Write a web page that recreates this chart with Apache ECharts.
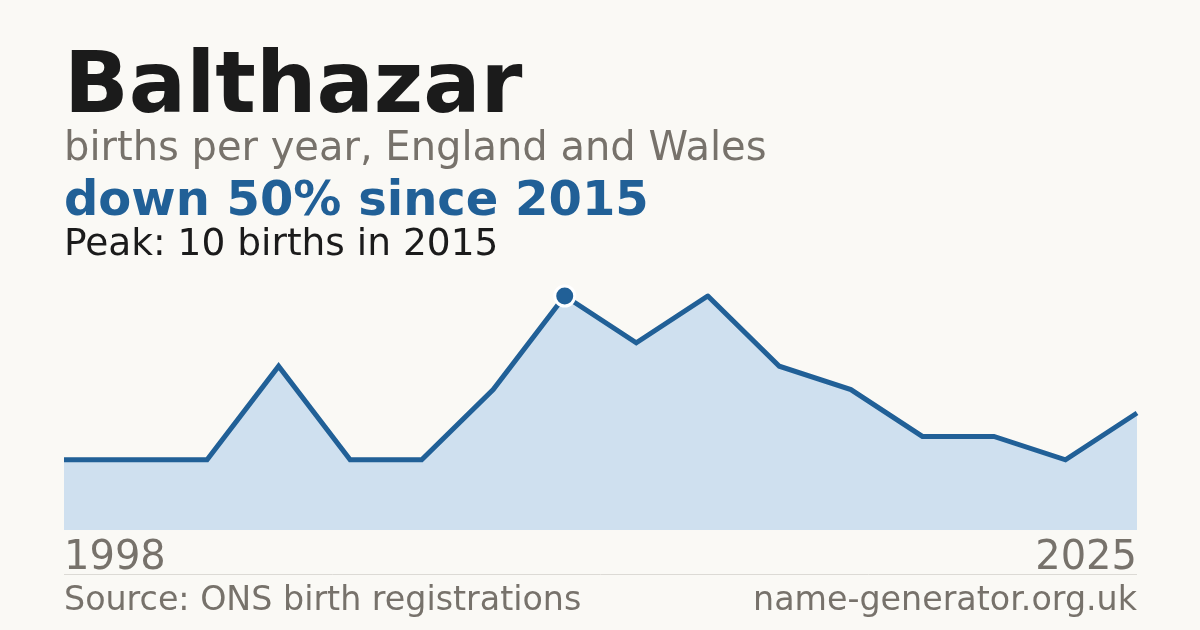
<!DOCTYPE html>
<html><head><meta charset="utf-8">
<script src="https://cdn.jsdelivr.net/npm/echarts@6/dist/echarts.min.js"></script>
<style>html,body{margin:0;padding:0;background:#faf9f5;}#c{width:1200px;height:630px;}</style>
</head><body><div id="c"></div>
<script>
const years = ['1998','2003','2006','2008','2010','2012','2014','2015','2016','2017','2018','2019','2021','2022','2024','2025'];
const births = [3,3,3,7,3,3,6,10,8,10,7,6,4,4,3,5];
const titleText = 'Balthazar';
const subtitleText = 'births per year, England and Wales';
const changeText = 'down 50% since 2015';
const peakText = 'Peak: 10 births in 2015';
const sourceText = 'Source: ONS birth registrations';
const siteText = 'name-generator.org.uk';

const peakIdx = years.indexOf('2015');
const font = 'DejaVu Sans';
const grey = '#77726b';
const chart = echarts.init(document.getElementById('c'));
chart.setOption({
  backgroundColor: '#faf9f5',
  animation: false,
  grid: {left: 64, right: 63, top: 296, bottom: 100},
  xAxis: {type: 'category', data: years, boundaryGap: false, show: false},
  yAxis: {type: 'value', min: 0, max: 10, show: false},
  series: [
    {type: 'line', data: births, showSymbol: false, symbol: 'none',
     lineStyle: {color: '#216097', width: 5, join: 'miter'},
     areaStyle: {color: '#cfe0ef', opacity: 1}, z: 2, silent: true},
    {type: 'scatter', data: [[peakIdx, births[peakIdx]]], symbol: 'circle', symbolSize: 20,
     itemStyle: {color: '#216097', borderColor: '#ffffff', borderWidth: 3, opacity: 1}, z: 5, silent: true}
  ],
  graphic: [
    {type: 'text', x: 64, y: 90, style: {text: titleText, font: 'bold 85px ' + font, fill: '#1b1b1b', verticalAlign: 'middle'}},
    {type: 'text', x: 64, y: 150, style: {text: subtitleText, font: '40px ' + font, fill: grey, verticalAlign: 'middle'}},
    {type: 'text', x: 64, y: 203, style: {text: changeText, font: 'bold 48px ' + font, fill: '#216097', verticalAlign: 'middle'}},
    {type: 'text', x: 64, y: 245, style: {text: peakText, font: '37.5px ' + font, fill: '#1b1b1b', verticalAlign: 'middle'}},
    {type: 'text', x: 64, y: 559, style: {text: years[0], font: '40px ' + font, fill: grey, verticalAlign: 'middle'}},
    {type: 'text', x: 1137, y: 559, style: {text: years[years.length-1], font: '40px ' + font, fill: grey, verticalAlign: 'middle', align: 'right'}},
    {type: 'line', shape: {x1: 64, y1: 574.5, x2: 1137, y2: 574.5}, style: {stroke: '#dcdad5', lineWidth: 1}},
    {type: 'text', x: 64, y: 601, style: {text: sourceText, font: '33.3px ' + font, fill: grey, verticalAlign: 'middle'}},
    {type: 'text', x: 1137, y: 601, style: {text: siteText, font: '33.3px ' + font, fill: grey, verticalAlign: 'middle', align: 'right'}}
  ]
});
</script></body></html>
